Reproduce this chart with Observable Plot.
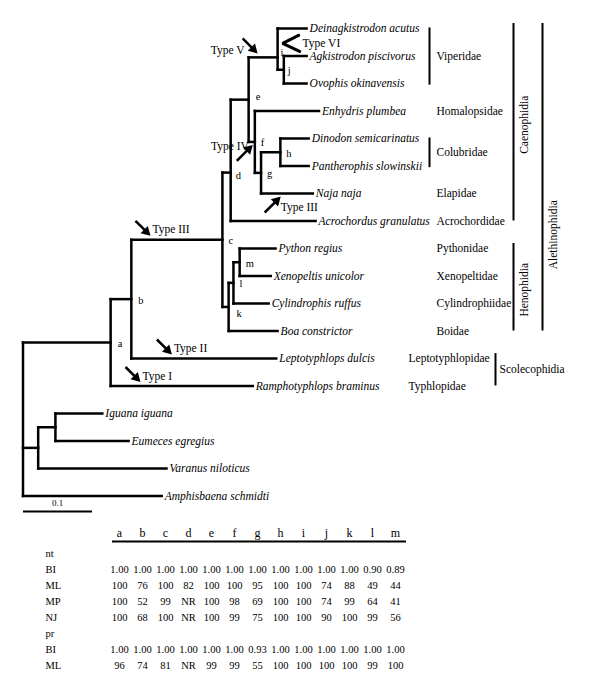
<!DOCTYPE html>
<html><head><meta charset="utf-8">
<script src="https://cdn.jsdelivr.net/npm/d3@7"></script>
<script src="https://cdn.jsdelivr.net/npm/@observablehq/plot@0.6"></script>
<style>
html,body{margin:0;padding:0;background:#fff;}
#chart{width:600px;}
#chart svg{display:block;font-family:"Liberation Serif","DejaVu Serif",serif !important;}
#chart svg text{font-family:"Liberation Serif","DejaVu Serif",serif !important;}
</style></head><body><div id="chart"></div>
<script>
// ---------- DATA ----------
// Tree: node names, parent of each node, branch length (substitutions / site)
const nodeNames = ["root","a","b","c","d","e","i","Deinagkistrodon acutus","j","Agkistrodon piscivorus","Ovophis okinavensis","f","Enhydris plumbea","g","h","Dinodon semicarinatus","Pantherophis slowinskii","Naja naja","Acrochordus granulatus","k","l","m","Python regius","Xenopeltis unicolor","Cylindrophis ruffus","Boa constrictor","Leptotyphlops dulcis","Ramphotyphlops braminus","sq","ie","Iguana iguana","Eumeces egregius","Varanus niloticus","Amphisbaena schmidti"];
const nodeParents = [null,"root","a","b","c","d","e","i","i","j","j","e","f","f","g","h","h","g","d","c","k","l","m","m","l","k","b","a","root","sq","ie","ie","sq","root"];
const branchLengths = [0,0.127,0.030,0.132,0.012,0.026,0.042,0.042,0.009,0.033,0.033,0.009,0.093,0.009,0.028,0.041,0.041,0.075,0.123,0.009,0.007,0.009,0.052,0.045,0.051,0.071,0.210,0.206,0.022,0.025,0.068,0.106,0.186,0.201];
const nodeLetters = ["a","b","c","d","e","f","g","h","i","j","k","l","m"];
const readNodes = ["i","d"];
const readNodeRows = [1.05,5.24];

// Families
const familyNames = ["Viperidae","Homalopsidae","Colubridae","Elapidae","Acrochordidae","Pythonidae","Xenopeltidae","Cylindrophiidae","Boidae","Leptotyphlopidae","Typhlopidae"];
const familyFirst = ["Deinagkistrodon acutus","Enhydris plumbea","Dinodon semicarinatus","Naja naja","Acrochordus granulatus","Python regius","Xenopeltis unicolor","Cylindrophis ruffus","Boa constrictor","Leptotyphlops dulcis","Ramphotyphlops braminus"];
const familyLast  = ["Ovophis okinavensis","Enhydris plumbea","Pantherophis slowinskii","Naja naja","Acrochordus granulatus","Python regius","Xenopeltis unicolor","Cylindrophis ruffus","Boa constrictor","Leptotyphlops dulcis","Ramphotyphlops braminus"];

// Higher clades
const cladeNames = ["Caenophidia","Henophidia","Alethinophidia","Scolecophidia"];
const cladeFirst = ["Deinagkistrodon acutus","Python regius","Deinagkistrodon acutus","Leptotyphlops dulcis"];
const cladeLast  = ["Acrochordus granulatus","Boa constrictor","Boa constrictor","Ramphotyphlops braminus"];
const cladeLabelFrom = ["Deinagkistrodon acutus","Python regius","Acrochordus granulatus","Leptotyphlops dulcis"];
const cladeLabelTo   = ["Acrochordus granulatus","Boa constrictor","Python regius","Ramphotyphlops braminus"];

// Arrows (character types) placed on branches
const arrowLabels   = ["Type I","Type II","Type III","Type III","Type IV","Type V","Type VI"];
const arrowBranches = ["Ramphotyphlops braminus","Leptotyphlops dulcis","c","Naja naja","f","i","i"];
const arrowAlong    = [0.21,0.28,0.21,0.38,0.67,0.31,1];

const scaleBarLength = 0.1;

// Support table
const tableColumns = ["a","b","c","d","e","f","g","h","i","j","k","l","m"];
const tableRowLabels = ["nt","BI","ML","MP","NJ","pr","BI","ML"];
const ntBI = [1.00,1.00,1.00,1.00,1.00,1.00,1.00,1.00,1.00,1.00,1.00,0.90,0.89];
const ntML = [100,76,100,82,100,100,95,100,100,74,88,49,44];
const ntMP = [100,52,99,"NR",100,98,69,100,100,74,99,64,41];
const ntNJ = [100,68,100,"NR",100,99,75,100,100,90,100,99,56];
const prBI = [1.00,1.00,1.00,1.00,1.00,1.00,0.93,1.00,1.00,1.00,1.00,1.00,1.00];
const prML = [96,74,81,"NR",99,99,55,100,100,100,100,99,100];

// ---------- LAYOUT ----------
const W = 600, TREE_H = 524, TABLE_H = 170;
const X0 = 22.5, PXU = 690, Y0 = 28, PXR = 27.5;
const pxX = d => X0 + d * PXU, invX = p => (p - X0) / PXU;
const pxY = r => Y0 + r * PXR, invY = p => (p - Y0) / PXR;
const FONT = "Liberation Serif, DejaVu Serif, serif";

const nodes = nodeNames.map((name, i) => ({name, parent: nodeParents[i], len: branchLengths[i], children: []}));
const byName = new Map(nodes.map(n => [n.name, n]));
nodes.forEach(n => { if (n.parent) byName.get(n.parent).children.push(n); });
let tipIdx = 0;
(function lay(n, depth) {
  n.depth = depth + n.len;
  n.children.forEach(c => lay(c, n.depth));
  const ri = readNodes.indexOf(n.name);
  if (!n.children.length) n.row = tipIdx++;
  else if (ri >= 0) n.row = readNodeRows[ri];
  else n.row = (n.children[0].row + n.children[n.children.length - 1].row) / 2;
})(nodes[0], 0);
const tips = nodes.filter(n => !n.children.length);
const rowOf = name => byName.get(name).row;

const segs = [];
nodes.forEach(n => {
  if (n.parent) { const p = byName.get(n.parent); segs.push({x1: p.depth, x2: n.depth, y1: n.row, y2: n.row}); }
  if (n.children.length) segs.push({x1: n.depth, x2: n.depth, y1: n.children[0].row, y2: n.children[n.children.length - 1].row});
});
// letter label offsets (px)
const letterNudge = {i: [3, -5], k: [8, 7], e: [7, -3], d: [5, 3], a: [7, 1], b: [7, 1], j: [4, 1]};
const letters = nodes.filter(n => nodeLetters.includes(n.name)).map(n => {
  const [dx, dy] = letterNudge[n.name] || [6, 1];
  return {name: n.name, x: pxX(n.depth) + dx, y: pxY(n.row) + dy};
});

const families = familyNames.map((f, i) => ({name: f, r1: rowOf(familyFirst[i]), r2: rowOf(familyLast[i]),
  scol: rowOf(familyFirst[i]) >= rowOf("Leptotyphlops dulcis")}));
const clades = cladeNames.map((c, i) => ({name: c, r1: rowOf(cladeFirst[i]), r2: rowOf(cladeLast[i]),
  lr: (rowOf(cladeLabelFrom[i]) + rowOf(cladeLabelTo[i])) / 2}));
const cladeX = {Caenophidia: 513, Henophidia: 513, Alethinophidia: 542, Scolecophidia: 495};

// arrow geometry (pixel offsets)
const arrowLayout = ["above:right","above:right","above:right","below:tailRight","below:left","above:tailLeft","chevron"];
const arrows = [], arrowTexts = [], chevron = [];
arrowLabels.forEach((lab, k) => {
  const n = byName.get(arrowBranches[k]), p = byName.get(n.parent);
  const bx = pxX(p.depth + arrowAlong[k] * (n.depth - p.depth)), by = pxY(n.row);
  const [kind, tpos] = arrowLayout[k].split(":");
  if (kind === "chevron") {
    const tip = [bx + 5, by - 14];
    chevron.push({x: tip[0] + 16, y: tip[1] - 8}, {x: tip[0], y: tip[1]}, {x: tip[0] + 17, y: tip[1] + 8});
    arrowTexts.push({x: tip[0] + 20, y: tip[1], t: lab, a: "start"});
    return;
  }
  const tip = kind === "above" ? [bx, by - 4] : [bx, by + 3];
  const tail = kind === "above" ? [tip[0] - 15, tip[1] - 15] : [tip[0] - 16, tip[1] + 16];
  const L = Math.hypot(tip[0] - tail[0], tip[1] - tail[1]);
  const ux = (tip[0] - tail[0]) / L, uy = (tip[1] - tail[1]) / L;
  arrows.push({x1: tail[0], y1: tail[1], x2: tip[0] - 5 * ux, y2: tip[1] - 5 * uy,
    hx: tip[0] - 5.9 * ux, hy: tip[1] - 5.9 * uy, rot: Math.atan2(ux, -uy) * 180 / Math.PI});
  if (tpos === "right") arrowTexts.push({x: tip[0] + 2, y: tip[1] - 6, t: lab, a: "start"});
  if (tpos === "tailRight") arrowTexts.push({x: tail[0] + 16, y: tail[1] - 5, t: lab, a: "start"});
  if (tpos === "left") arrowTexts.push({x: tip[0] - 4, y: tip[1] + 1, t: lab, a: "end"});
  if (tpos === "tailLeft") arrowTexts.push({x: tail[0] + 2, y: tip[1] - 3, t: lab, a: "end"});
});

const scaleRow = tips.length - 1 + 0.56;

const tree = Plot.plot({
  width: W, height: TREE_H, margin: 0,
  x: {domain: [invX(0), invX(W)], range: [0, W], axis: null},
  y: {domain: [invY(0), invY(TREE_H)], range: [0, TREE_H], axis: null},
  style: {fontFamily: FONT, background: "#fff", color: "#000", overflow: "visible"},
  marks: [
    Plot.link(segs, {x1: "x1", y1: "y1", x2: "x2", y2: "y2", stroke: "#000", strokeWidth: 2.5, strokeLinecap: "square"}),
    Plot.text(tips, {x: "depth", y: "row", text: "name", textAnchor: "start", dx: 3, fontStyle: "italic", fontSize: 11.5, fontFamily: FONT}),
    Plot.text(letters, {x: d => invX(d.x), y: d => invY(d.y), text: "name", textAnchor: "start", fontSize: 10.5, fontFamily: FONT}),
    // families
    Plot.text(families, {x: d => invX(d.scol ? 408 : 436), y: d => (d.r1 + d.r2) / 2, text: "name", textAnchor: "start", fontSize: 11.5, fontFamily: FONT}),
    Plot.ruleX(families.filter(d => d.r2 > d.r1), {x: () => invX(429), y1: d => d.r1 - 0.02, y2: d => d.r2 + 0.06, strokeWidth: 2}),
    // higher clades
    Plot.ruleX(clades, {x: d => invX(cladeX[d.name]), y1: d => d.r1 - 0.18, y2: d => d.r2, strokeWidth: 2}),
    Plot.text(clades.filter(d => d.name !== "Scolecophidia"), {x: d => invX(cladeX[d.name] + 11), y: "lr", text: "name", rotate: -90, fontSize: 11.5, fontFamily: FONT}),
    Plot.text(clades.filter(d => d.name === "Scolecophidia"), {x: d => invX(cladeX[d.name] + 4), y: d => (d.r1 + d.r2) / 2 - 0.1, text: "name", textAnchor: "start", fontSize: 11.5, fontFamily: FONT}),
    // arrows: shaft + filled head
    Plot.link(arrows, {x1: d => invX(d.x1), y1: d => invY(d.y1), x2: d => invX(d.x2), y2: d => invY(d.y2), strokeWidth: 2.5, stroke: "#000"}),
    Plot.dot(arrows, {x: d => invX(d.hx), y: d => invY(d.hy), symbol: "triangle", rotate: "rot", r: 3.8, fill: "#000", stroke: "none"}),
    Plot.line(chevron, {x: d => invX(d.x), y: d => invY(d.y), strokeWidth: 3.2, strokeLinejoin: "miter", stroke: "#000"}),
    Plot.text(arrowTexts.filter(d => d.a === "start"), {x: d => invX(d.x), y: d => invY(d.y), text: "t", textAnchor: "start", fontSize: 11.5, fontFamily: FONT}),
    Plot.text(arrowTexts.filter(d => d.a === "end"), {x: d => invX(d.x), y: d => invY(d.y), text: "t", textAnchor: "end", fontSize: 11.5, fontFamily: FONT}),
    // scale bar
    Plot.link([scaleRow], {x1: () => 0, x2: () => scaleBarLength, y1: d => d, y2: d => d, strokeWidth: 2, stroke: "#000"}),
    Plot.text([scaleRow], {x: () => scaleBarLength / 2, y: d => d, dy: -8, text: () => String(scaleBarLength), fontSize: 9, fontFamily: FONT})
  ]
});

// ---------- TABLE ----------
const fmt = v => typeof v === "number" && v <= 1 ? v.toFixed(2) : String(v);
const tableData = [null, ntBI, ntML, ntMP, ntNJ, null, prBI, prML];
const cells = [];
tableData.forEach((vals, r) => { if (vals) vals.forEach((v, c) => cells.push({col: tableColumns[c], row: r, t: fmt(v)})); });

const table = Plot.plot({
  width: W, height: TABLE_H, margin: 0,
  x: {type: "point", domain: tableColumns, range: [102, 412], axis: null},
  y: {domain: [0, 7], range: [29, 141], axis: null},
  style: {fontFamily: FONT, background: "#fff", color: "#000", overflow: "visible"},
  marks: [
    Plot.text(tableColumns, {x: d => d, y: () => -1.25, text: d => d, fontSize: 12, fontFamily: FONT}),
    Plot.ruleY([-0.75], {y: d => d, x1: () => tableColumns[0], x2: () => tableColumns[tableColumns.length - 1], insetLeft: -7, insetRight: -11, strokeWidth: 2}),
    Plot.text(tableRowLabels, {y: (d, i) => i, text: d => d, frameAnchor: "left", dx: 45, textAnchor: "start", fontSize: 10.5, fontFamily: FONT}),
    Plot.text(cells, {x: "col", y: "row", text: "t", fontSize: 10.5, fontFamily: FONT})
  ]
});

document.getElementById("chart").append(tree, table);
</script>
</body></html>
